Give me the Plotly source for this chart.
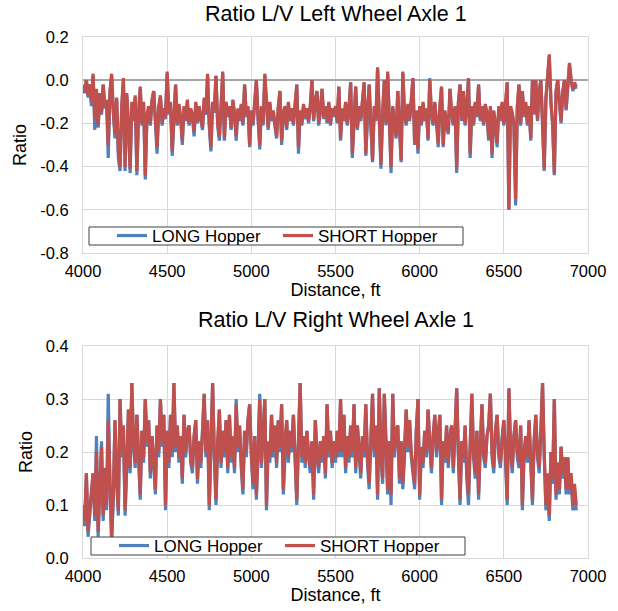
import plotly.graph_objects as go

# Distance grid (ft) - sampling positions of the records
distance = list(range(4000, 6931, 10))

# Ratio L/V Left Wheel Axle 1 (one row = 100 ft)
left_short = [
    -0.03, -0.05, 0.00, -0.07, -0.02, -0.10, 0.03, -0.18, -0.04, -0.21,
    -0.06, -0.15, -0.02, -0.12, -0.09, -0.30, -0.05, 0.03, -0.14, -0.25,
    -0.08, -0.33, -0.40, -0.12, 0.01, -0.40, -0.06, -0.20, -0.41, -0.10,
    -0.18, -0.07, -0.42, -0.15, -0.03, -0.20, -0.10, -0.44, -0.16, -0.12,
    -0.20, -0.09, -0.05, -0.18, -0.31, -0.12, -0.07, -0.20, -0.13, -0.17,
    0.04, -0.15, -0.10, -0.33, -0.14, -0.02, -0.20, -0.11, -0.17, -0.28,
    -0.12, -0.18, -0.09, -0.20, -0.13, -0.16, -0.24, -0.10, -0.19, -0.12,
    -0.17, -0.22, -0.08, -0.15, 0.03, -0.20, -0.31, -0.10, -0.14, 0.02,
    -0.20, -0.26, -0.12, 0.04, -0.27, -0.10, -0.16, -0.12, -0.22, -0.09,
    -0.15, -0.26, -0.13, -0.18, -0.11, -0.20, -0.02, -0.16, -0.12, -0.30,
    -0.14, -0.20, -0.10, 0.00, -0.17, -0.30, -0.12, -0.20, 0.03, -0.13,
    -0.22, -0.10, -0.18, -0.14, -0.20, -0.26, -0.12, -0.05, -0.28, -0.15,
    -0.12, -0.22, -0.10, -0.18, -0.13, -0.20, -0.11, -0.02, -0.31, -0.14,
    -0.20, -0.11, -0.17, -0.13, -0.19, -0.12, 0.00, -0.18, -0.10, -0.05,
    -0.20, -0.14, -0.04, -0.17, -0.12, -0.19, -0.10, -0.20, -0.13, -0.16,
    -0.12, -0.19, -0.03, -0.27, -0.13, -0.18, -0.10, -0.20, -0.13, -0.01,
    -0.34, -0.15, -0.03, -0.22, -0.12, -0.18, -0.10, -0.01, -0.34, -0.13,
    -0.02, -0.20, -0.37, -0.12, -0.18, 0.06, -0.20, -0.39, -0.15, 0.00,
    -0.20, 0.04, -0.18, -0.40, -0.12, -0.20, -0.26, -0.05, -0.18, -0.37,
    0.04, -0.15, -0.20, -0.11, -0.18, -0.10, 0.01, -0.29, -0.14, -0.32,
    -0.12, -0.20, -0.10, -0.18, -0.13, -0.27, 0.00, -0.15, -0.20, -0.10,
    -0.18, -0.29, -0.12, -0.03, -0.30, -0.14, -0.20, -0.24, -0.04, -0.15,
    -0.20, -0.12, -0.41, -0.10, -0.02, -0.18, -0.05, -0.20, -0.12, 0.01,
    -0.34, -0.12, -0.20, -0.10, -0.16, -0.02, -0.18, -0.12, -0.20, -0.11,
    -0.15, -0.27, -0.12, -0.34, -0.14, -0.20, -0.29, -0.12, -0.18, -0.10,
    -0.20, -0.12, -0.01, -0.60, -0.12, -0.15, -0.20, -0.55, -0.12, -0.02,
    -0.20, -0.05, -0.16, -0.10, -0.20, -0.12, -0.27, 0.00, -0.15, 0.00,
    -0.18, -0.05, 0.00, -0.20, -0.41, -0.08, 0.02, 0.12, -0.10, -0.20,
    -0.43, -0.05, 0.00, -0.12, -0.19, -0.05, 0.00, -0.13, -0.02, 0.08,
    0.00, -0.04, -0.01, -0.03,
]
left_long = [
    -0.02, -0.06, 0.00, -0.08, -0.02, -0.12, 0.02, -0.23, -0.05, -0.22,
    -0.07, -0.16, -0.02, -0.13, -0.10, -0.36, -0.06, 0.02, -0.15, -0.27,
    -0.09, -0.36, -0.42, -0.13, 0.00, -0.42, -0.07, -0.21, -0.43, -0.11,
    -0.19, -0.08, -0.44, -0.16, -0.04, -0.21, -0.11, -0.46, -0.17, -0.13,
    -0.21, -0.10, -0.05, -0.19, -0.34, -0.13, -0.08, -0.21, -0.14, -0.18,
    0.03, -0.16, -0.11, -0.35, -0.15, -0.02, -0.21, -0.12, -0.18, -0.30,
    -0.13, -0.19, -0.10, -0.21, -0.14, -0.17, -0.26, -0.11, -0.20, -0.13,
    -0.18, -0.23, -0.09, -0.16, 0.02, -0.21, -0.33, -0.11, -0.15, 0.02,
    -0.21, -0.28, -0.13, 0.03, -0.28, -0.11, -0.17, -0.13, -0.23, -0.10,
    -0.16, -0.28, -0.14, -0.19, -0.12, -0.21, -0.02, -0.17, -0.13, -0.31,
    -0.15, -0.21, -0.11, 0.00, -0.18, -0.32, -0.13, -0.21, 0.02, -0.14,
    -0.23, -0.11, -0.19, -0.15, -0.21, -0.27, -0.13, -0.05, -0.30, -0.16,
    -0.13, -0.23, -0.11, -0.19, -0.14, -0.21, -0.12, -0.02, -0.34, -0.15,
    -0.21, -0.12, -0.18, -0.14, -0.20, -0.13, 0.00, -0.19, -0.11, -0.05,
    -0.21, -0.15, -0.04, -0.18, -0.13, -0.20, -0.11, -0.21, -0.14, -0.17,
    -0.13, -0.20, -0.03, -0.28, -0.14, -0.19, -0.11, -0.21, -0.14, -0.01,
    -0.36, -0.16, -0.03, -0.23, -0.13, -0.19, -0.11, -0.01, -0.35, -0.14,
    -0.02, -0.21, -0.38, -0.13, -0.19, 0.05, -0.21, -0.41, -0.16, 0.00,
    -0.21, 0.03, -0.19, -0.43, -0.13, -0.21, -0.27, -0.05, -0.19, -0.38,
    0.03, -0.16, -0.21, -0.12, -0.19, -0.11, 0.01, -0.30, -0.15, -0.34,
    -0.13, -0.21, -0.11, -0.19, -0.14, -0.28, 0.01, -0.16, -0.21, -0.11,
    -0.19, -0.31, -0.13, -0.03, -0.31, -0.15, -0.21, -0.25, -0.04, -0.16,
    -0.21, -0.13, -0.43, -0.11, -0.02, -0.19, -0.05, -0.21, -0.13, 0.01,
    -0.36, -0.13, -0.21, -0.11, -0.17, -0.02, -0.19, -0.13, -0.21, -0.12,
    -0.16, -0.28, -0.13, -0.36, -0.15, -0.21, -0.31, -0.13, -0.19, -0.11,
    -0.21, -0.13, -0.01, -0.60, -0.13, -0.16, -0.21, -0.58, -0.13, -0.02,
    -0.21, -0.05, -0.17, -0.11, -0.21, -0.13, -0.28, 0.00, -0.16, 0.00,
    -0.19, -0.05, 0.00, -0.21, -0.42, -0.09, 0.02, 0.11, -0.11, -0.21,
    -0.44, -0.06, 0.00, -0.13, -0.20, -0.06, 0.00, -0.14, -0.03, 0.07,
    0.00, -0.05, -0.02, -0.04,
]

# Ratio L/V Right Wheel Axle 1 (one row = 100 ft)
right_short = [
    0.10, 0.07, 0.16, 0.05, 0.09, 0.12, 0.16, 0.08, 0.20, 0.05,
    0.14, 0.21, 0.08, 0.17, 0.10, 0.26, 0.15, 0.04, 0.12, 0.26,
    0.15, 0.09, 0.30, 0.20, 0.25, 0.09, 0.18, 0.28, 0.17, 0.33,
    0.22, 0.18, 0.27, 0.20, 0.12, 0.24, 0.19, 0.30, 0.22, 0.26,
    0.16, 0.23, 0.19, 0.13, 0.25, 0.20, 0.30, 0.22, 0.27, 0.10,
    0.24, 0.18, 0.27, 0.20, 0.33, 0.21, 0.25, 0.19, 0.23, 0.15,
    0.27, 0.20, 0.24, 0.25, 0.19, 0.17, 0.23, 0.26, 0.15, 0.22,
    0.18, 0.24, 0.31, 0.20, 0.26, 0.10, 0.23, 0.33, 0.20, 0.11,
    0.22, 0.28, 0.18, 0.24, 0.20, 0.26, 0.17, 0.27, 0.19, 0.23,
    0.17, 0.29, 0.21, 0.25, 0.18, 0.13, 0.24, 0.20, 0.26, 0.29,
    0.20, 0.14, 0.23, 0.12, 0.20, 0.30, 0.18, 0.24, 0.30, 0.10,
    0.22, 0.19, 0.27, 0.20, 0.25, 0.18, 0.26, 0.21, 0.29, 0.13,
    0.22, 0.26, 0.19, 0.24, 0.21, 0.27, 0.20, 0.11, 0.22, 0.33,
    0.19, 0.23, 0.18, 0.24, 0.20, 0.17, 0.22, 0.12, 0.26, 0.20,
    0.17, 0.22, 0.19, 0.23, 0.16, 0.29, 0.20, 0.24, 0.18, 0.22,
    0.19, 0.24, 0.20, 0.30, 0.20, 0.27, 0.17, 0.23, 0.19, 0.25,
    0.20, 0.29, 0.17, 0.25, 0.21, 0.16, 0.23, 0.20, 0.29, 0.19,
    0.14, 0.22, 0.31, 0.20, 0.25, 0.12, 0.32, 0.20, 0.15, 0.31,
    0.20, 0.13, 0.22, 0.12, 0.31, 0.20, 0.24, 0.25, 0.15, 0.22,
    0.14, 0.20, 0.28, 0.21, 0.26, 0.20, 0.17, 0.14, 0.24, 0.30,
    0.12, 0.21, 0.18, 0.24, 0.20, 0.28, 0.22, 0.17, 0.23, 0.27,
    0.20, 0.24, 0.27, 0.11, 0.22, 0.19, 0.25, 0.18, 0.23, 0.25,
    0.17, 0.24, 0.32, 0.20, 0.11, 0.22, 0.19, 0.25, 0.16, 0.12,
    0.22, 0.31, 0.20, 0.16, 0.24, 0.12, 0.21, 0.29, 0.20, 0.18,
    0.23, 0.25, 0.31, 0.20, 0.17, 0.24, 0.27, 0.20, 0.18, 0.23,
    0.26, 0.20, 0.11, 0.32, 0.21, 0.17, 0.23, 0.26, 0.20, 0.18,
    0.25, 0.10, 0.20, 0.23, 0.19, 0.26, 0.18, 0.11, 0.22, 0.27,
    0.20, 0.17, 0.24, 0.33, 0.20, 0.10, 0.16, 0.08, 0.20, 0.15,
    0.30, 0.12, 0.18, 0.13, 0.21, 0.16, 0.19, 0.13, 0.19, 0.13,
    0.16, 0.10, 0.14, 0.10,
]
right_long = [
    0.09, 0.06, 0.16, 0.04, 0.08, 0.12, 0.16, 0.07, 0.23, 0.04,
    0.13, 0.22, 0.07, 0.16, 0.09, 0.31, 0.14, 0.03, 0.11, 0.26,
    0.14, 0.08, 0.30, 0.19, 0.25, 0.08, 0.17, 0.28, 0.16, 0.33,
    0.21, 0.17, 0.27, 0.19, 0.11, 0.24, 0.18, 0.30, 0.21, 0.26,
    0.15, 0.23, 0.18, 0.12, 0.25, 0.19, 0.30, 0.21, 0.27, 0.09,
    0.24, 0.17, 0.27, 0.19, 0.33, 0.20, 0.25, 0.18, 0.23, 0.14,
    0.27, 0.19, 0.24, 0.25, 0.18, 0.16, 0.23, 0.26, 0.14, 0.22,
    0.17, 0.24, 0.31, 0.19, 0.26, 0.09, 0.23, 0.33, 0.19, 0.10,
    0.21, 0.28, 0.17, 0.24, 0.19, 0.26, 0.16, 0.27, 0.18, 0.23,
    0.16, 0.30, 0.20, 0.25, 0.17, 0.12, 0.24, 0.19, 0.26, 0.29,
    0.19, 0.13, 0.23, 0.11, 0.20, 0.31, 0.17, 0.24, 0.30, 0.09,
    0.21, 0.18, 0.27, 0.19, 0.25, 0.17, 0.26, 0.20, 0.29, 0.12,
    0.21, 0.26, 0.18, 0.24, 0.20, 0.27, 0.19, 0.10, 0.22, 0.33,
    0.18, 0.23, 0.17, 0.24, 0.19, 0.16, 0.22, 0.11, 0.26, 0.19,
    0.16, 0.22, 0.18, 0.23, 0.15, 0.29, 0.19, 0.24, 0.17, 0.22,
    0.18, 0.24, 0.19, 0.30, 0.19, 0.27, 0.16, 0.23, 0.18, 0.25,
    0.19, 0.29, 0.16, 0.25, 0.20, 0.15, 0.23, 0.19, 0.29, 0.18,
    0.13, 0.22, 0.31, 0.19, 0.25, 0.11, 0.32, 0.19, 0.14, 0.31,
    0.19, 0.12, 0.22, 0.10, 0.31, 0.19, 0.24, 0.25, 0.14, 0.22,
    0.13, 0.19, 0.28, 0.20, 0.26, 0.19, 0.16, 0.13, 0.24, 0.30,
    0.11, 0.20, 0.17, 0.24, 0.19, 0.28, 0.21, 0.16, 0.23, 0.27,
    0.19, 0.24, 0.27, 0.10, 0.22, 0.18, 0.25, 0.17, 0.23, 0.25,
    0.16, 0.24, 0.32, 0.19, 0.10, 0.22, 0.18, 0.25, 0.15, 0.10,
    0.22, 0.31, 0.19, 0.15, 0.24, 0.11, 0.21, 0.29, 0.19, 0.17,
    0.23, 0.25, 0.31, 0.19, 0.16, 0.24, 0.27, 0.19, 0.17, 0.23,
    0.26, 0.19, 0.10, 0.32, 0.20, 0.16, 0.23, 0.26, 0.19, 0.17,
    0.25, 0.09, 0.19, 0.23, 0.18, 0.26, 0.17, 0.10, 0.22, 0.27,
    0.19, 0.16, 0.24, 0.33, 0.19, 0.09, 0.15, 0.07, 0.20, 0.14,
    0.30, 0.11, 0.18, 0.12, 0.21, 0.15, 0.19, 0.12, 0.19, 0.12,
    0.15, 0.09, 0.13, 0.09,
]

x_ticks = [4000, 4500, 5000, 5500, 6000, 6500, 7000]
top_yticks = [0.2, 0.0, -0.2, -0.4, -0.6, -0.8]
top_ytext = ["0.2", "0.0", "-0.2", "-0.4", "-0.6", "-0.8"]
bot_yticks = [0.4, 0.3, 0.2, 0.1, 0.0]
bot_ytext = ["0.4", "0.3", "0.2", "0.1", "0.0"]

titles = ["Ratio L/V Left Wheel Axle 1", "Ratio L/V Right Wheel Axle 1"]
series_names = ["LONG Hopper", "SHORT Hopper"]

BLUE = "#4F81BD"
RED = "#C0504D"
GRID = "#D9D9D9"
FONT = "Liberation Sans, Arial, sans-serif"
W, H = 618, 611
ML, MR, MT, MB = 83, 30, 37, 53
IW, IH = W - ML - MR, H - MT - MB


def px_x(px):
    return (px - ML) / IW


def px_y(py):
    return 1 - (py - MT) / IH


LW = 3.2
fig = go.Figure()
fig.add_trace(go.Scatter(x=distance, y=left_long, name=series_names[0], mode="lines",
                         line=dict(color=BLUE, width=LW), xaxis="x", yaxis="y", legend="legend"))
fig.add_trace(go.Scatter(x=distance, y=left_short, name=series_names[1], mode="lines",
                         line=dict(color=RED, width=LW), xaxis="x", yaxis="y", legend="legend"))
fig.add_trace(go.Scatter(x=distance, y=right_long, name=series_names[0], mode="lines",
                         line=dict(color=BLUE, width=LW), xaxis="x2", yaxis="y2", legend="legend2"))
fig.add_trace(go.Scatter(x=distance, y=right_short, name=series_names[1], mode="lines",
                         line=dict(color=RED, width=LW), xaxis="x2", yaxis="y2", legend="legend2"))

top_dom = [px_y(253), 1]
bot_dom = [0, px_y(346)]

tickfont = dict(family=FONT, size=16.5, color="#000000")
axtitlefont = dict(family=FONT, size=18, color="#000000")


def xax(anchor):
    return dict(domain=[0, 1], anchor=anchor, range=[4000, 7000], tickvals=x_ticks,
                ticktext=[str(v) for v in x_ticks], showgrid=True, gridcolor=GRID, gridwidth=1,
                showline=True, linecolor=GRID, linewidth=1, mirror=True, zeroline=False,
                ticks="", tickfont=tickfont, ticklabelstandoff=3, automargin=False,
                title=dict(text="Distance, ft", font=axtitlefont, standoff=3))


def yax(anchor, dom, rng, tv, tt):
    return dict(domain=dom, anchor=anchor, range=rng, tickvals=tv, ticktext=tt,
                showgrid=True, gridcolor=GRID, gridwidth=1, showline=True, linecolor=GRID,
                linewidth=1, mirror=True, ticks="", tickfont=tickfont, ticklabelstandoff=10,
                automargin=False, title=dict(text="Ratio", font=axtitlefont, standoff=8))


legend_common = dict(orientation="h", bgcolor="rgba(0,0,0,0)", borderwidth=0,
                     font=dict(family=FONT, size=17, color="#000000"), xanchor="left",
                     yanchor="middle", entrywidth=121, entrywidthmode="pixels", itemwidth=30,
                     tracegroupgap=0)

# legend frames (white boxes with dark border) sitting over the plot
leg_boxes = [(89, 227, 463, 245), (91, 537, 465, 555)]
shapes = [dict(type="rect", xref="paper", yref="paper", x0=px_x(a), x1=px_x(c),
               y0=px_y(d), y1=px_y(b), fillcolor="#FFFFFF",
               line=dict(color="#404040", width=1), layer="above")
          for (a, b, c, d) in leg_boxes]

fig.update_layout(
    width=W, height=H, margin=dict(l=ML, r=MR, t=MT, b=MB, autoexpand=False),
    paper_bgcolor="#FFFFFF", plot_bgcolor="#FFFFFF",
    font=dict(family=FONT, color="#000000"),
    hovermode=False,
    xaxis=xax("y"),
    yaxis=dict(yax("x", top_dom, [-0.8, 0.2], top_yticks, top_ytext),
               zeroline=True, zerolinecolor="#A6A6A6", zerolinewidth=2),
    xaxis2=xax("y2"),
    yaxis2=dict(yax("x2", bot_dom, [0, 0.4], bot_yticks, bot_ytext), zeroline=False),
    legend=dict(legend_common, x=px_x(112), y=px_y(236)),
    legend2=dict(legend_common, x=px_x(114), y=px_y(546)),
    shapes=shapes,
    annotations=[
        dict(text=titles[0], x=0.5, y=px_y(14), xref="paper", yref="paper",
             showarrow=False, font=dict(family=FONT, size=21.5, color="#000000"), yanchor="middle"),
        dict(text=titles[1], x=0.5, y=px_y(320), xref="paper", yref="paper",
             showarrow=False, font=dict(family=FONT, size=21.5, color="#000000"), yanchor="middle"),
    ],
)

# remove the default page margin so the 618x611 figure fills the window exactly
fig.write_html("out.html", config={"displayModeBar": False},
               post_script="document.body.style.margin='0';document.body.style.overflow='hidden';")
